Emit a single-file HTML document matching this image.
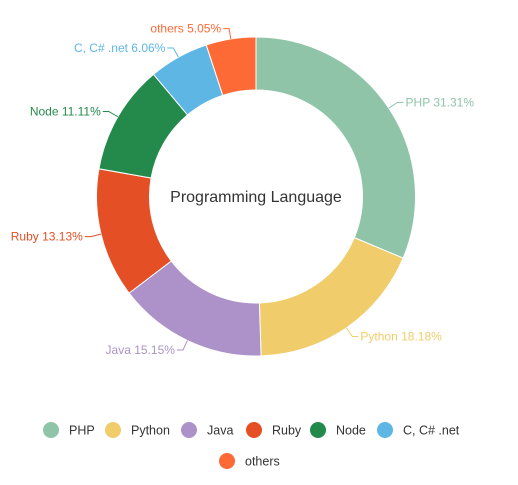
<!DOCTYPE html>
<html><head><meta charset="utf-8"><style>
html,body{margin:0;padding:0;background:#fff;}
svg{display:block;font-family:"Liberation Sans",sans-serif;}
</style></head><body>
<svg id="chart" width="518" height="485">
<g id="slices"></g><g id="labels"></g>
<text x="256" y="202" text-anchor="middle" font-size="16" fill="#333">Programming Language</text>
<g id="legend"></g>
</svg>
<script>
const categories = ["PHP","Python","Java","Ruby","Node","C, C# .net","others"];
const values = [31.31,18.18,15.15,13.13,11.11,6.06,5.05];
const labelsText = ["31.31%","18.18%","15.15%","13.13%","11.11%","6.06%","5.05%"];
const colors = ["#8fc4a8","#f0cc6a","#ac92c8","#e44f25","#248a4b","#5db6e4","#fe6a36"];
const NS="http://www.w3.org/2000/svg";
const cx=256, cy=196.5, R=159.5, r=106.5;
const total=values.reduce((a,b)=>a+b,0);
function pt(rad,ang){return [cx+rad*Math.sin(ang), cy-rad*Math.cos(ang)];}
const gS=document.getElementById('slices'), gL=document.getElementById('labels'), gLeg=document.getElementById('legend');
let acc=0;
values.forEach((v,i)=>{
  const a0=acc/total*2*Math.PI, a1=(acc+v)/total*2*Math.PI; acc+=v;
  const large=(a1-a0)>Math.PI?1:0;
  const [x0,y0]=pt(R,a0),[x1,y1]=pt(R,a1),[x2,y2]=pt(r,a1),[x3,y3]=pt(r,a0);
  const p=document.createElementNS(NS,'path');
  p.setAttribute('d',`M${x0},${y0}A${R},${R} 0 ${large} 1 ${x1},${y1}L${x2},${y2}A${r},${r} 0 ${large} 0 ${x3},${y3}Z`);
  p.setAttribute('fill',colors[i]); p.setAttribute('stroke','#fff'); p.setAttribute('stroke-width','1');
  
  
  gS.appendChild(p);
  const am=(a0+a1)/2, right=Math.sin(am)>=0;
  const [ax,ay]=pt(R,am),[bx,by]=pt(170,am);
  const ex=bx+(right?6:-6);
  const l=document.createElementNS(NS,'polyline');
  l.setAttribute('points',`${ax},${ay} ${bx},${by} ${ex},${by}`);
  l.setAttribute('fill','none'); l.setAttribute('stroke',colors[i]); l.setAttribute('stroke-width','1');
  
  
  gL.appendChild(l);
  const t=document.createElementNS(NS,'text');
  t.setAttribute('x',ex+(right?2:-2)); t.setAttribute('y',by+4);
  t.setAttribute('text-anchor',right?'start':'end'); t.setAttribute('font-size','12'); t.setAttribute('fill',colors[i]);
  t.textContent=categories[i]+' '+labelsText[i];
  
  
  gL.appendChild(t);
});
const legX=[51,113,189,254,318,385,227], legY=[430,430,430,430,430,430,461];
categories.forEach((c,i)=>{
  const g=document.createElementNS(NS,'g');
  
  
  const ci=document.createElementNS(NS,'circle');
  ci.setAttribute('cx',legX[i]); ci.setAttribute('cy',legY[i]); ci.setAttribute('r','8'); ci.setAttribute('fill',colors[i]);
  g.appendChild(ci);
  const t=document.createElementNS(NS,'text');
  t.setAttribute('x',legX[i]+18); t.setAttribute('y',legY[i]+4.5); t.setAttribute('font-size','12.5'); t.setAttribute('fill','#333');
  t.textContent=c; g.appendChild(t);
  gLeg.appendChild(g);
});
</script>
</body></html>
